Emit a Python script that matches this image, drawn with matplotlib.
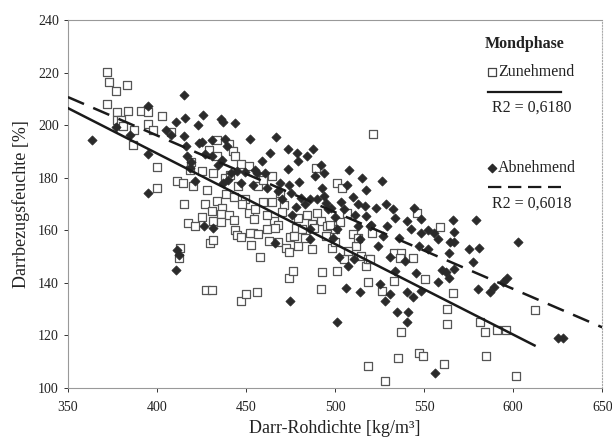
import numpy as np
import matplotlib
matplotlib.use('Agg')
import matplotlib.pyplot as plt

plt.rcParams['font.family'] = ['Liberation Serif', 'DejaVu Serif']

# Zunehmend (open squares): Darr-Rohdichte, Darrbezugsfeuchte
zu_x = [371.7, 373.2, 377.0, 383.0, 371.7, 377.6, 383.7, 391.0, 394.7, 377.6,
        380.0, 380.7, 387.0, 395.0, 397.6, 386.8, 403.0, 400.0, 400.0, 408.0,
        411.0, 414.4, 415.3, 417.5, 421.6, 413.0, 412.3, 420.0, 418.8, 425.4,
        428.0, 427.0, 429.0, 431.5, 433.7, 433.5, 431.0, 431.5, 430.0, 431.5,
        427.6, 431.0, 433.7, 436.4, 436.0, 440.7, 443.0, 443.6, 445.0, 447.3,
        446.9, 450.2, 456.0, 440.7, 442.5, 443.6, 447.3, 439.0, 443.0, 445.5,
        449.5, 451.7, 454.3, 453.9, 453.0, 452.0, 457.0, 451.6, 456.5, 459.4,
        459.4, 461.6, 463.0, 464.8, 465.5, 467.7, 464.8, 469.2, 471.4, 472.5,
        474.0, 474.0, 476.5, 474.7, 478.0, 479.0, 481.3, 479.0, 484.5, 486.8,
        487.2, 489.4, 490.0, 492.2, 495.0, 495.5, 492.6, 492.2, 498.0, 500.0,
        500.0, 501.0, 501.0, 504.0, 504.8, 506.5, 509.8, 512.0, 513.0, 514.8,
        517.4, 518.6, 518.6, 519.6, 521.4, 518.6, 520.7, 526.2, 528.0, 533.2,
        533.2, 537.2, 536.7, 537.2, 535.4, 543.7, 546.0, 547.0, 549.2, 550.3,
        559.0, 561.3, 563.0, 563.0, 566.3, 581.4, 584.3, 585.0, 590.8, 595.9,
        601.8, 612.3, 438.0, 448.0, 455.0, 462.0, 468.0, 470.0, 477.0, 483.0,
        488.0, 497.0, 503.0, 507.0, 436.0, 441.0, 425.0, 419.0, 458.0, 466.0]
zu_y = [220.2, 216.5, 213.2, 215.4, 208.0, 204.9, 205.5, 205.5, 204.9, 202.0,
        202.0, 199.6, 198.3, 200.4, 198.3, 192.4, 203.4, 184.0, 176.2, 197.4,
        178.7, 178.0, 170.0, 162.8, 161.5, 153.2, 149.3, 176.8, 183.1, 182.5,
        175.3, 170.0, 190.5, 182.0, 188.4, 194.3, 167.4, 163.6, 155.2, 156.4,
        137.3, 137.3, 171.1, 168.6, 166.1, 165.7, 164.0, 160.0, 158.1, 157.6,
        133.1, 135.6, 136.4, 193.0, 190.0, 188.2, 185.4, 173.8, 172.8, 176.8,
        171.8, 166.7, 164.2, 159.1, 154.3, 159.1, 158.5, 184.6, 176.8, 179.3,
        170.6, 160.4, 155.8, 170.6, 163.6, 155.7, 180.8, 174.3, 169.8, 153.4,
        151.9, 142.0, 144.6, 157.6, 161.0, 154.0, 160.4, 164.8, 166.0, 162.3,
        152.8, 183.8, 166.7, 163.6, 157.9, 161.7, 144.2, 137.6, 153.4, 155.4,
        160.4, 144.6, 178.0, 176.2, 149.0, 166.7, 158.5, 154.1, 157.2, 150.3,
        146.5, 149.0, 140.2, 149.0, 196.7, 108.2, 159.1, 137.0, 102.5, 140.8,
        151.5, 151.5, 149.6, 121.2, 111.5, 149.6, 166.7, 113.3, 112.1, 141.4,
        161.3, 109.0, 130.0, 124.4, 136.1, 125.0, 121.2, 112.0, 121.9, 121.9,
        104.5, 129.8, 180.0, 170.0, 168.0, 166.0, 162.0, 167.0, 158.0, 157.0,
        161.0, 162.0, 163.0, 152.0, 163.0, 181.0, 165.0, 186.0, 150.0, 161.0]

# Abnehmend (filled diamonds)
ab_x = [363.4, 377.0, 385.0, 394.7, 395.0, 394.7, 405.2, 408.0, 410.7, 414.9,
        415.5, 415.2, 416.1, 416.7, 418.8, 422.8, 423.6, 421.4, 411.0, 410.7,
        412.3, 426.0, 425.4, 426.5, 431.0, 431.0, 431.5, 436.0, 436.8, 438.1,
        439.2, 436.4, 437.3, 443.6, 441.8, 445.0, 449.5, 452.0, 453.9, 456.0,
        458.7, 460.4, 463.7, 466.6, 466.0, 469.2, 473.6, 473.6, 474.0, 475.4,
        474.7, 478.4, 479.0, 479.7, 480.6, 484.5, 487.8, 489.0, 485.8, 485.8,
        485.8, 492.2, 493.8, 492.9, 493.8, 495.0, 497.7, 501.0, 501.0, 502.0,
        503.2, 506.0, 507.0, 506.5, 507.6, 509.8, 510.8, 512.6, 514.0, 515.3,
        514.0, 517.4, 517.0, 517.4, 519.6, 523.0, 524.0, 525.0, 526.2, 528.3,
        528.8, 529.4, 530.6, 530.6, 532.8, 533.9, 533.9, 535.0, 539.4, 540.5,
        540.5, 540.5, 541.1, 542.7, 543.7, 544.1, 545.4, 547.0, 548.5, 548.1,
        548.5, 552.4, 556.2, 555.8, 558.0, 558.0, 560.0, 562.4, 564.0, 564.0,
        564.6, 566.3, 566.7, 566.7, 566.7, 575.0, 577.7, 579.2, 581.0, 580.5,
        587.0, 589.3, 594.2, 596.3, 602.9, 625.3, 628.1, 447.0, 455.0, 462.0,
        470.0, 478.0, 483.0, 490.0, 496.0, 500.0, 505.0, 511.0, 520.0, 527.0,
        434.0, 440.0, 427.0, 419.0, 468.0, 476.0, 499.0, 513.0, 536.0, 552.0]
ab_y = [194.3, 199.2, 196.4, 207.4, 189.2, 174.3, 198.3, 196.4, 201.2, 211.3,
        202.7, 195.8, 192.0, 188.2, 183.8, 200.2, 193.2, 178.7, 152.4, 145.0,
        150.8, 203.7, 193.5, 161.7, 188.2, 194.5, 161.0, 202.3, 201.2, 194.8,
        192.0, 186.7, 178.1, 200.8, 181.9, 182.5, 182.1, 194.8, 177.4, 181.9,
        186.3, 181.9, 189.5, 195.5, 155.3, 178.0, 191.1, 183.4, 177.4, 174.3,
        133.2, 189.5, 186.3, 178.4, 172.4, 188.4, 191.0, 180.6, 171.8, 160.4,
        156.6, 185.0, 181.9, 176.2, 173.0, 170.5, 168.6, 160.4, 125.3, 149.7,
        170.6, 138.2, 146.5, 177.4, 183.1, 172.8, 149.0, 161.7, 156.6, 179.9,
        136.4, 175.4, 169.2, 165.4, 161.7, 168.6, 154.1, 139.5, 178.7, 133.2,
        169.9, 161.7, 149.7, 135.8, 168.0, 164.8, 144.6, 129.0, 148.4, 163.6,
        136.6, 125.0, 129.0, 160.4, 134.5, 168.6, 143.9, 154.1, 164.5, 159.1,
        137.0, 160.0, 105.7, 159.1, 156.6, 140.4, 145.0, 144.0, 151.3, 142.0,
        155.7, 163.8, 159.4, 155.7, 145.2, 152.8, 147.8, 163.8, 153.4, 137.7,
        136.6, 138.6, 140.2, 142.0, 155.7, 119.1, 119.1, 178.0, 183.0, 176.0,
        172.0, 169.0, 170.0, 172.0, 168.0, 165.0, 168.0, 166.0, 162.0, 158.0,
        185.0, 179.0, 189.0, 186.0, 175.0, 166.0, 157.0, 170.0, 157.0, 153.0]

# Trendlines as printed in the source (start/end of each line)
zu_line_x = [350, 612]
zu_line_y = [206.5, 116.2]
ab_line_x = [350, 650]
ab_line_y = [210.7, 123.1]

fig = plt.figure(figsize=(6.12, 4.46), dpi=100)
ax = fig.add_axes([0.111, 0.13, 0.873, 0.825])

ax.scatter(zu_x, zu_y, marker='s', s=34, facecolor='white', edgecolor='#555555',
           linewidth=0.9, zorder=2)
ax.scatter(ab_x, ab_y, marker='D', s=22, facecolor='#2a2a2a', edgecolor='#2a2a2a',
           linewidth=0.5, zorder=3)
ax.plot(zu_line_x, zu_line_y, color='#1a1a1a', lw=1.8, zorder=4)
ax.plot(ab_line_x, ab_line_y, color='#1a1a1a', lw=1.8, dashes=(7, 4), zorder=4)

ax.set_xlim(350, 650)
ax.set_ylim(100, 240)
ax.set_xticks(np.arange(350, 651, 50))
ax.set_yticks(np.arange(100, 241, 20))
ax.tick_params(labelsize=10, colors='#333333', length=3, width=0.7, direction='out')
for t in ax.get_xticklabels() + ax.get_yticklabels():
    t.set_color('#222222')
for s in ['left', 'bottom', 'top']:
    ax.spines[s].set_color('#999999')
    ax.spines[s].set_linewidth(0.8)
ax.spines['right'].set_color('#aaaaaa')
ax.spines['right'].set_linestyle(':')
ax.tick_params(axis='x', pad=6)

ax.set_xlabel('Darr-Rohdichte [kg/m³]', fontsize=13, color='#222222', labelpad=5)
ax.set_ylabel('Darrbezugsfeuchte [%]', fontsize=13, color='#222222', labelpad=6)

# legend-like annotation block
ax.text(584, 231, 'Mondphase', fontsize=11.5, fontweight='bold', va='center', color='#222222')
ax.scatter([588], [220.2], marker='s', s=30, facecolor='white', edgecolor='#444444',
           linewidth=0.9, zorder=5)
ax.text(591.5, 220.2, 'Zunehmend', fontsize=11.5, va='center', color='#222222')
ax.plot([586, 627], [212.8, 212.8], color='#1a1a1a', lw=1.6)
ax.text(633, 206.5, 'R2 = 0,6180', fontsize=11.5, va='center', ha='right', color='#222222')
ax.scatter([588], [183.8], marker='D', s=18, facecolor='#2a2a2a', edgecolor='#2a2a2a', zorder=5)
ax.text(591.5, 183.8, 'Abnehmend', fontsize=11.5, va='center', color='#222222')
ax.plot([586, 627], [176.6, 176.6], color='#1a1a1a', lw=1.6, dashes=(6, 3))
ax.text(633, 170.2, 'R2 = 0,6018', fontsize=11.5, va='center', ha='right', color='#222222')

fig.savefig('out.png', dpi=100)
